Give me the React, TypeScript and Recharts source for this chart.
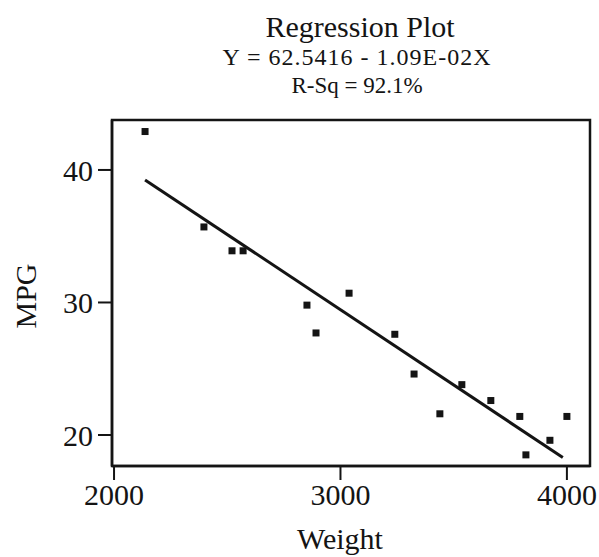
import React from 'react';
import { ScatterChart, Scatter, XAxis, YAxis, ReferenceLine, ReferenceArea } from 'recharts';

const weights = [2137, 2397, 2521, 2570, 2852, 2892, 3038, 3240, 3325, 3439, 3536, 3664, 3792, 3819, 3925, 4000];
const mpgs = [42.9, 35.7, 33.9, 33.9, 29.8, 27.7, 30.7, 27.6, 24.6, 21.6, 23.8, 22.6, 21.4, 18.5, 19.6, 21.4];

// fitted line end points
const fitX = [2137, 3982];
const fitY = [39.25, 18.3];

const xTicks = [2000, 3000, 4000];
const yTicks = [20, 30, 40];
const xDomain = [1991, 4102];
const yDomain = [17.66, 43.77];

const points = weights.map((w, i) => ({ weight: w, mpg: mpgs[i] }));
const fitSegment = fitX.map((x, i) => ({ x, y: fitY[i] }));

const FONT = '"Liberation Serif", "Times New Roman", serif';
const INK = '#141414';

const SquareDot = (props: any) => {
  const { cx, cy } = props;
  return <rect x={cx - 3.5} y={cy - 3.5} width={7} height={7} fill={INK} />;
};

export default function App() {
  const tickStyle = { fill: INK, fontSize: 30, fontFamily: FONT };
  return (
    <div style={{ position: 'absolute', left: 0, top: 0, width: 599, height: 557, background: '#fff' }}>
      <ScatterChart width={599} height={557} margin={{ top: 120, right: 9, left: 0, bottom: 0 }}>
        <XAxis
          type="number"
          dataKey="weight"
          domain={xDomain}
          ticks={xTicks}
          height={91}
          tickSize={14}
          tickMargin={4}
          tick={tickStyle}
          axisLine={{ stroke: INK, strokeWidth: 2.5 }}
          tickLine={{ stroke: INK, strokeWidth: 2 }}
        />
        <YAxis
          type="number"
          dataKey="mpg"
          domain={yDomain}
          ticks={yTicks}
          width={112}
          tickSize={14}
          tickMargin={5}
          tick={tickStyle}
          axisLine={{ stroke: INK, strokeWidth: 2.5 }}
          tickLine={{ stroke: INK, strokeWidth: 2 }}
        />
        <ReferenceArea
          x1={xDomain[0]}
          x2={xDomain[1]}
          y1={yDomain[0]}
          y2={yDomain[1]}
          fill="none"
          stroke={INK}
          strokeWidth={2.5}
        />
        <ReferenceLine segment={fitSegment} stroke={INK} strokeWidth={3} />
        <Scatter data={points} shape={SquareDot} isAnimationActive={false} />
      </ScatterChart>
      <svg width={599} height={557} style={{ position: 'absolute', left: 0, top: 0, pointerEvents: 'none' }}>
        <g fill={INK} fontFamily={FONT} textAnchor="middle">
          <text x={360} y={37} fontSize={30}>Regression Plot</text>
          <text x={357} y={65} fontSize={24} letterSpacing={1}>Y = 62.5416 - 1.09E-02X</text>
          <text x={357} y={93} fontSize={23}>R-Sq = 92.1%</text>
          <text x={340} y={549} fontSize={30}>Weight</text>
          <text x={36} y={296} fontSize={30} transform="rotate(-90, 36, 296)">MPG</text>
        </g>
      </svg>
    </div>
  );
}
